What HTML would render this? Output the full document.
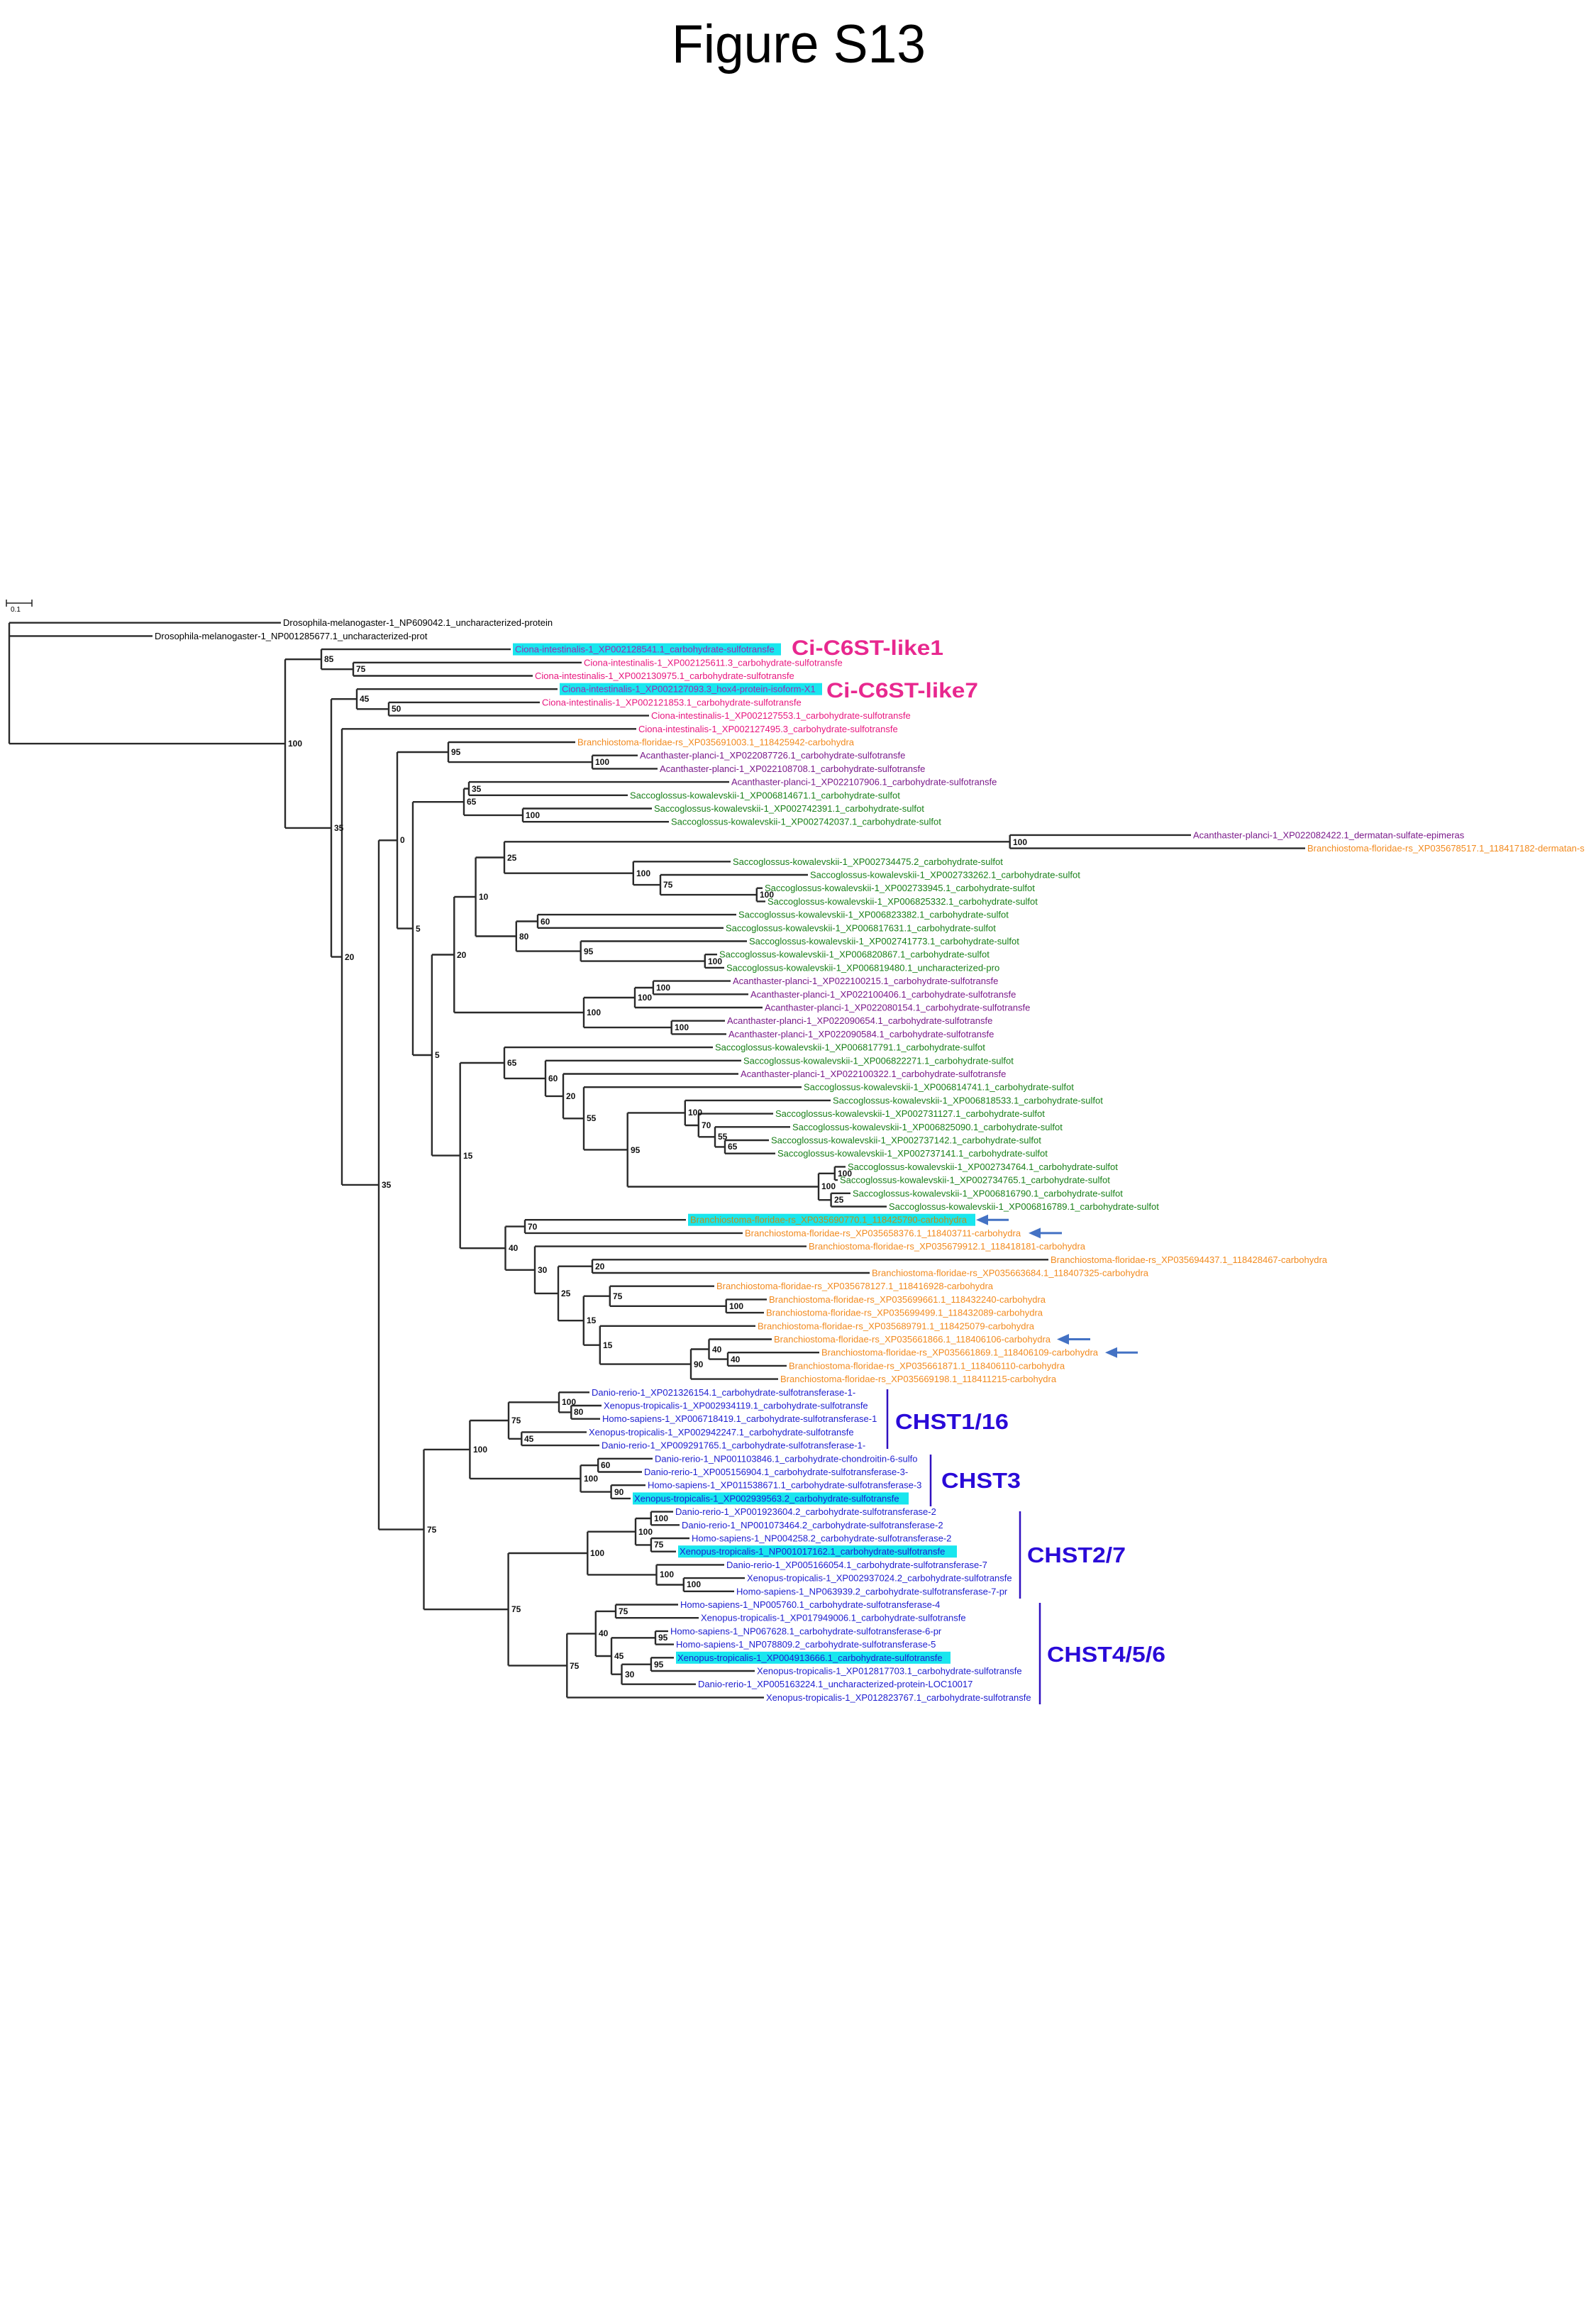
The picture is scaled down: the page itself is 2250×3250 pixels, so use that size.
<!DOCTYPE html>
<html><head><meta charset="utf-8"><style>
html,body{margin:0;padding:0;background:#fff;}
svg{display:block;}
text{font-family:"Liberation Sans",Arial,sans-serif;}
.l{font-size:13px;}
.k{fill:#000;}.c{fill:#e8177f;}.o{fill:#f28a1e;}.p{fill:#7a1a8a;}.g{fill:#1a801a;}.b{fill:#2020d0;}
.bs{font-size:12px;font-weight:bold;fill:#111;}
</style></head><body>
<svg width="2250" height="3250" viewBox="0 0 2250 3250" xmlns="http://www.w3.org/2000/svg">
<rect width="2250" height="3250" fill="#fff"/>
<text x="947" y="88" font-size="76" textLength="358" lengthAdjust="spacingAndGlyphs" fill="#000">Figure S13</text>
<path d="M9 850H45M9 845V855M45 845V855" stroke="#222" stroke-width="1.5" fill="none"/>
<text x="15" y="862" font-size="10" fill="#000">0.1</text>
<g fill="#19e6ee">
<rect x="723" y="906.6" width="378" height="17"/>
<rect x="789" y="962.7" width="370" height="17"/>
<rect x="970" y="1710.7" width="405" height="17"/>
<rect x="892" y="2103.4" width="389" height="17"/>
<rect x="956" y="2178.2" width="393" height="17"/>
<rect x="953" y="2327.8" width="387" height="17"/>
</g>
<path stroke="#2a2a2a" stroke-width="2.4" fill="none" d="
M13 877.7V1048.1M13 877.7H396M13 896.4H215M13 1048.1H402
M402 929.2V1166.9M402 929.2H453M402 1166.9H467
M453 915.1V943.2M453 915.1H720M453 943.2H498
M498 933.8V952.5M498 933.8H820M498 952.5H751
M467 985.2V1348.6M467 985.2H503M467 1348.6H482
M503 971.2V999.3M503 971.2H786M503 999.3H548
M548 989.9V1008.6M548 989.9H761M548 1008.6H915
M482 1027.3V1669.9M482 1027.3H897M482 1669.9H534
M534 1184.3V2155.6M534 1184.3H560M534 2155.6H597.5
M560 1060V1308.6M560 1060H632M560 1308.6H582
M632 1046V1074.1M632 1046H811M632 1074.1H835
M835 1064.7V1083.4M835 1064.7H899M835 1083.4H927
M582 1130.2V1487M582 1130.2H654M582 1487H608.9
M654 1111.5V1148.9M654 1111.5H661M654 1148.9H737
M661 1102.1V1120.8M661 1102.1H1028M661 1120.8H885
M737 1139.5V1158.2M737 1139.5H919M737 1158.2H943
M608.9 1345.5V1628.6M608.9 1345.5H640.3M608.9 1628.6H648.7
M640.3 1264V1427M640.3 1264H670.6M640.3 1427H823
M670.6 1208.5V1319.5M670.6 1208.5H711M670.6 1319.5H727.8
M711 1186.3V1230.7M711 1186.3H1423.7M711 1230.7H892.8
M1423.7 1176.9V1195.6M1423.7 1176.9H1679M1423.7 1195.6H1840
M892.8 1214.3V1247.1M892.8 1214.3H1030M892.8 1247.1H931
M931 1233V1261.1M931 1233H1139M931 1261.1H1066.8
M1066.8 1251.7V1270.4M1066.8 1251.7H1075M1066.8 1270.4H1079
M727.8 1298.5V1340.6M727.8 1298.5H758M727.8 1340.6H818.7
M758 1289.1V1307.8M758 1289.1H1038M758 1307.8H1020
M818.7 1326.5V1354.6M818.7 1326.5H1053M818.7 1354.6H993.8
M993.8 1345.2V1363.9M993.8 1345.2H1011M993.8 1363.9H1021
M823 1406V1448.1M823 1406H895M823 1448.1H946.7
M895 1392V1420M895 1392H920.9M895 1420H1075
M920.9 1382.6V1401.3M920.9 1382.6H1030M920.9 1401.3H1055
M946.7 1438.7V1457.4M946.7 1438.7H1022M946.7 1457.4H1024
M648.7 1498V1759.2M648.7 1498H711M648.7 1759.2H712.5
M711 1476.1V1519.9M711 1476.1H1005M711 1519.9H769
M769 1494.8V1544.9M769 1494.8H1045M769 1544.9H794
M794 1513.5V1576.3M794 1513.5H1041M794 1576.3H823
M823 1532.2V1620.4M823 1532.2H1130M823 1620.4H884.7
M884.7 1568.4V1672.5M884.7 1568.4H965.8M884.7 1672.5H1154
M965.8 1550.9V1586M965.8 1550.9H1171M965.8 1586H984.8
M984.8 1569.6V1602.3M984.8 1569.6H1090M984.8 1602.3H1008
M1008 1588.3V1616.4M1008 1588.3H1114M1008 1616.4H1022
M1022 1607V1625.7M1022 1607H1084M1022 1625.7H1093
M1154 1653.8V1691.2M1154 1653.8H1176.8M1154 1691.2H1171.6
M1176.8 1644.4V1663.1M1176.8 1644.4H1192M1176.8 1663.1H1181
M1171.6 1681.8V1700.5M1171.6 1681.8H1199M1171.6 1700.5H1250
M712.5 1728.6V1789.8M712.5 1728.6H740M712.5 1789.8H754
M740 1719.2V1737.9M740 1719.2H967M740 1737.9H1047
M754 1756.6V1822.9M754 1756.6H1137M754 1822.9H787
M787 1784.7V1861.2M787 1784.7H835M787 1861.2H822.8
M835 1775.3V1794M835 1775.3H1478M835 1794H1226
M822.8 1826.7V1895.7M822.8 1826.7H859.8M822.8 1895.7H845.8
M859.8 1812.7V1840.8M859.8 1812.7H1007M859.8 1840.8H1023.7
M1023.7 1831.4V1850.1M1023.7 1831.4H1081M1023.7 1850.1H1077
M845.8 1868.8V1922.6M845.8 1868.8H1065M845.8 1922.6H974
M974 1901.5V1943.6M974 1901.5H999.5M974 1943.6H1097
M999.5 1887.5V1915.6M999.5 1887.5H1088M999.5 1915.6H1026
M1026 1906.2V1924.9M1026 1906.2H1155M1026 1924.9H1109
M597.5 2042.9V2268.2M597.5 2042.9H662.4M597.5 2268.2H716.6
M662.4 2002V2083.9M662.4 2002H717M662.4 2083.9H818.5
M717 1976.3V2027.8M717 1976.3H788M717 2027.8H735.3
M788 1962.3V1990.4M788 1962.3H831M788 1990.4H805.3
M805.3 1981V1999.7M805.3 1981H848M805.3 1999.7H846
M735.3 2018.4V2037.1M735.3 2018.4H827M735.3 2037.1H845
M818.5 2065.2V2102.6M818.5 2065.2H843.2M818.5 2102.6H861.6
M843.2 2055.8V2074.5M843.2 2055.8H920M843.2 2074.5H905
M861.6 2093.2V2111.9M861.6 2093.2H910M861.6 2111.9H889
M716.6 2189V2347.4M716.6 2189H828.3M716.6 2347.4H799.3
M828.3 2158.7V2219.4M828.3 2158.7H896M828.3 2219.4H925.5
M896 2140V2177.4M896 2140H917.8M896 2177.4H917.9
M917.8 2130.6V2149.3M917.8 2130.6H949M917.8 2149.3H958
M917.9 2168V2186.7M917.9 2168H972M917.9 2186.7H953
M925.5 2205.4V2233.5M925.5 2205.4H1021M925.5 2233.5H963.8
M963.8 2224.1V2242.8M963.8 2224.1H1050M963.8 2242.8H1035
M799.3 2302.4V2392.4M799.3 2302.4H839.8M799.3 2392.4H1077
M839.8 2270.9V2334M839.8 2270.9H868M839.8 2334H862
M868 2261.5V2280.2M868 2261.5H956M868 2280.2H985
M862 2308.3V2359.7M862 2308.3H924M862 2359.7H876.5
M924 2298.9V2317.6M924 2298.9H942M924 2317.6H950
M876.5 2345.7V2373.7M876.5 2345.7H917.9M876.5 2373.7H981
M917.9 2336.3V2355M917.9 2336.3H950M917.9 2355H1064
"/>
<g class="bs">
<text x="406" y="1052">100</text><text x="457" y="933">85</text><text x="502" y="947">75</text>
<text x="471" y="1171">35</text><text x="507" y="989">45</text><text x="552" y="1003">50</text>
<text x="486" y="1353">20</text><text x="538" y="1674">35</text><text x="564" y="1188">0</text>
<text x="636" y="1064">95</text><text x="839" y="1078">100</text><text x="586" y="1313">5</text>
<text x="658" y="1134">65</text><text x="665" y="1116">35</text><text x="741" y="1153">100</text>
<text x="613" y="1491">5</text><text x="644" y="1350">20</text><text x="675" y="1268">10</text>
<text x="715" y="1213">25</text><text x="1428" y="1191">100</text><text x="897" y="1235">100</text>
<text x="935" y="1251">75</text><text x="1071" y="1265">100</text><text x="732" y="1324">80</text>
<text x="762" y="1303">60</text><text x="823" y="1345">95</text><text x="998" y="1359">100</text>
<text x="827" y="1431">100</text><text x="899" y="1410">100</text><text x="925" y="1396">100</text>
<text x="951" y="1452">100</text><text x="653" y="1633">15</text><text x="715" y="1502">65</text>
<text x="773" y="1524">60</text><text x="798" y="1549">20</text><text x="827" y="1580">55</text>
<text x="889" y="1625">95</text><text x="970" y="1572">100</text><text x="989" y="1590">70</text>
<text x="1012" y="1606">55</text><text x="1026" y="1620">65</text><text x="1158" y="1676">100</text>
<text x="1181" y="1658">100</text><text x="1176" y="1695">25</text><text x="717" y="1763">40</text>
<text x="744" y="1733">70</text><text x="758" y="1794">30</text><text x="791" y="1827">25</text>
<text x="839" y="1789">20</text><text x="827" y="1865">15</text><text x="864" y="1831">75</text>
<text x="1028" y="1845">100</text><text x="850" y="1900">15</text><text x="978" y="1927">90</text>
<text x="1004" y="1906">40</text><text x="1030" y="1920">40</text>
<text x="602" y="2160">75</text><text x="667" y="2047">100</text><text x="721" y="2006">75</text>
<text x="792" y="1980">100</text><text x="809" y="1994">80</text><text x="739" y="2032">45</text>
<text x="823" y="2088">100</text><text x="847" y="2069">60</text><text x="866" y="2107">90</text>
<text x="721" y="2272">75</text><text x="832" y="2193">100</text><text x="900" y="2163">100</text>
<text x="922" y="2144">100</text><text x="922" y="2181">75</text><text x="930" y="2223">100</text>
<text x="968" y="2237">100</text><text x="803" y="2352">75</text><text x="844" y="2306">40</text>
<text x="872" y="2275">75</text><text x="866" y="2338">45</text><text x="928" y="2312">95</text>
<text x="881" y="2364">30</text><text x="922" y="2350">95</text>
</g>
<g class="l">
<text class="k" x="399" y="882.2">Drosophila-melanogaster-1_NP609042.1_uncharacterized-protein</text>
<text class="k" x="218" y="900.9">Drosophila-melanogaster-1_NP001285677.1_uncharacterized-prot</text>
<text x="726" y="919.6" fill="#9a2fb0">Ciona-intestinalis-1_XP002128541.1_carbohydrate-sulfotransfe</text>
<text class="c" x="823" y="938.3">Ciona-intestinalis-1_XP002125611.3_carbohydrate-sulfotransfe</text>
<text class="c" x="754" y="957">Ciona-intestinalis-1_XP002130975.1_carbohydrate-sulfotransfe</text>
<text x="792" y="975.7" fill="#9a2fb0">Ciona-intestinalis-1_XP002127093.3_hox4-protein-isoform-X1</text>
<text class="c" x="764" y="994.4">Ciona-intestinalis-1_XP002121853.1_carbohydrate-sulfotransfe</text>
<text class="c" x="918" y="1013.1">Ciona-intestinalis-1_XP002127553.1_carbohydrate-sulfotransfe</text>
<text class="c" x="900" y="1031.8">Ciona-intestinalis-1_XP002127495.3_carbohydrate-sulfotransfe</text>
<text class="o" x="814" y="1050.5">Branchiostoma-floridae-rs_XP035691003.1_118425942-carbohydra</text>
<text class="p" x="902" y="1069.2">Acanthaster-planci-1_XP022087726.1_carbohydrate-sulfotransfe</text>
<text class="p" x="930" y="1087.9">Acanthaster-planci-1_XP022108708.1_carbohydrate-sulfotransfe</text>
<text class="p" x="1031" y="1106.6">Acanthaster-planci-1_XP022107906.1_carbohydrate-sulfotransfe</text>
<text class="g" x="888" y="1125.3">Saccoglossus-kowalevskii-1_XP006814671.1_carbohydrate-sulfot</text>
<text class="g" x="922" y="1144">Saccoglossus-kowalevskii-1_XP002742391.1_carbohydrate-sulfot</text>
<text class="g" x="946" y="1162.7">Saccoglossus-kowalevskii-1_XP002742037.1_carbohydrate-sulfot</text>
<text class="p" x="1682" y="1181.4">Acanthaster-planci-1_XP022082422.1_dermatan-sulfate-epimeras</text>
<text class="o" x="1843" y="1200.1">Branchiostoma-floridae-rs_XP035678517.1_118417182-dermatan-s</text>
<text class="g" x="1033" y="1218.8">Saccoglossus-kowalevskii-1_XP002734475.2_carbohydrate-sulfot</text>
<text class="g" x="1142" y="1237.5">Saccoglossus-kowalevskii-1_XP002733262.1_carbohydrate-sulfot</text>
<text class="g" x="1078" y="1256.2">Saccoglossus-kowalevskii-1_XP002733945.1_carbohydrate-sulfot</text>
<text class="g" x="1082" y="1274.9">Saccoglossus-kowalevskii-1_XP006825332.1_carbohydrate-sulfot</text>
<text class="g" x="1041" y="1293.6">Saccoglossus-kowalevskii-1_XP006823382.1_carbohydrate-sulfot</text>
<text class="g" x="1023" y="1312.3">Saccoglossus-kowalevskii-1_XP006817631.1_carbohydrate-sulfot</text>
<text class="g" x="1056" y="1331">Saccoglossus-kowalevskii-1_XP002741773.1_carbohydrate-sulfot</text>
<text class="g" x="1014" y="1349.7">Saccoglossus-kowalevskii-1_XP006820867.1_carbohydrate-sulfot</text>
<text class="g" x="1024" y="1368.4">Saccoglossus-kowalevskii-1_XP006819480.1_uncharacterized-pro</text>
<text class="p" x="1033" y="1387.1">Acanthaster-planci-1_XP022100215.1_carbohydrate-sulfotransfe</text>
<text class="p" x="1058" y="1405.8">Acanthaster-planci-1_XP022100406.1_carbohydrate-sulfotransfe</text>
<text class="p" x="1078" y="1424.5">Acanthaster-planci-1_XP022080154.1_carbohydrate-sulfotransfe</text>
<text class="p" x="1025" y="1443.2">Acanthaster-planci-1_XP022090654.1_carbohydrate-sulfotransfe</text>
<text class="p" x="1027" y="1461.9">Acanthaster-planci-1_XP022090584.1_carbohydrate-sulfotransfe</text>
<text class="g" x="1008" y="1480.6">Saccoglossus-kowalevskii-1_XP006817791.1_carbohydrate-sulfot</text>
<text class="g" x="1048" y="1499.3">Saccoglossus-kowalevskii-1_XP006822271.1_carbohydrate-sulfot</text>
<text class="p" x="1044" y="1518">Acanthaster-planci-1_XP022100322.1_carbohydrate-sulfotransfe</text>
<text class="g" x="1133" y="1536.7">Saccoglossus-kowalevskii-1_XP006814741.1_carbohydrate-sulfot</text>
<text class="g" x="1174" y="1555.4">Saccoglossus-kowalevskii-1_XP006818533.1_carbohydrate-sulfot</text>
<text class="g" x="1093" y="1574.1">Saccoglossus-kowalevskii-1_XP002731127.1_carbohydrate-sulfot</text>
<text class="g" x="1117" y="1592.8">Saccoglossus-kowalevskii-1_XP006825090.1_carbohydrate-sulfot</text>
<text class="g" x="1087" y="1611.5">Saccoglossus-kowalevskii-1_XP002737142.1_carbohydrate-sulfot</text>
<text class="g" x="1096" y="1630.2">Saccoglossus-kowalevskii-1_XP002737141.1_carbohydrate-sulfot</text>
<text class="g" x="1195" y="1648.9">Saccoglossus-kowalevskii-1_XP002734764.1_carbohydrate-sulfot</text>
<text class="g" x="1184" y="1667.6">Saccoglossus-kowalevskii-1_XP002734765.1_carbohydrate-sulfot</text>
<text class="g" x="1202" y="1686.3">Saccoglossus-kowalevskii-1_XP006816790.1_carbohydrate-sulfot</text>
<text class="g" x="1253" y="1705">Saccoglossus-kowalevskii-1_XP006816789.1_carbohydrate-sulfot</text>
<text x="973" y="1723.7" fill="#c0901a">Branchiostoma-floridae-rs_XP035690770.1_118425790-carbohydra</text>
<text class="o" x="1050" y="1742.4">Branchiostoma-floridae-rs_XP035658376.1_118403711-carbohydra</text>
<text class="o" x="1140" y="1761.1">Branchiostoma-floridae-rs_XP035679912.1_118418181-carbohydra</text>
<text class="o" x="1481" y="1779.8">Branchiostoma-floridae-rs_XP035694437.1_118428467-carbohydra</text>
<text class="o" x="1229" y="1798.5">Branchiostoma-floridae-rs_XP035663684.1_118407325-carbohydra</text>
<text class="o" x="1010" y="1817.2">Branchiostoma-floridae-rs_XP035678127.1_118416928-carbohydra</text>
<text class="o" x="1084" y="1835.9">Branchiostoma-floridae-rs_XP035699661.1_118432240-carbohydra</text>
<text class="o" x="1080" y="1854.6">Branchiostoma-floridae-rs_XP035699499.1_118432089-carbohydra</text>
<text class="o" x="1068" y="1873.3">Branchiostoma-floridae-rs_XP035689791.1_118425079-carbohydra</text>
<text class="o" x="1091" y="1892">Branchiostoma-floridae-rs_XP035661866.1_118406106-carbohydra</text>
<text class="o" x="1158" y="1910.7">Branchiostoma-floridae-rs_XP035661869.1_118406109-carbohydra</text>
<text class="o" x="1112" y="1929.4">Branchiostoma-floridae-rs_XP035661871.1_118406110-carbohydra</text>
<text class="o" x="1100" y="1948.1">Branchiostoma-floridae-rs_XP035669198.1_118411215-carbohydra</text>
<text class="b" x="834" y="1966.8">Danio-rerio-1_XP021326154.1_carbohydrate-sulfotransferase-1-</text>
<text class="b" x="851" y="1985.5">Xenopus-tropicalis-1_XP002934119.1_carbohydrate-sulfotransfe</text>
<text class="b" x="849" y="2004.2">Homo-sapiens-1_XP006718419.1_carbohydrate-sulfotransferase-1</text>
<text class="b" x="830" y="2022.9">Xenopus-tropicalis-1_XP002942247.1_carbohydrate-sulfotransfe</text>
<text class="b" x="848" y="2041.6">Danio-rerio-1_XP009291765.1_carbohydrate-sulfotransferase-1-</text>
<text class="b" x="923" y="2060.3">Danio-rerio-1_NP001103846.1_carbohydrate-chondroitin-6-sulfo</text>
<text class="b" x="908" y="2079">Danio-rerio-1_XP005156904.1_carbohydrate-sulfotransferase-3-</text>
<text class="b" x="913" y="2097.7">Homo-sapiens-1_XP011538671.1_carbohydrate-sulfotransferase-3</text>
<text class="b" x="894" y="2116.4">Xenopus-tropicalis-1_XP002939563.2_carbohydrate-sulfotransfe</text>
<text class="b" x="952" y="2135.1">Danio-rerio-1_XP001923604.2_carbohydrate-sulfotransferase-2</text>
<text class="b" x="961" y="2153.8">Danio-rerio-1_NP001073464.2_carbohydrate-sulfotransferase-2</text>
<text class="b" x="975" y="2172.5">Homo-sapiens-1_NP004258.2_carbohydrate-sulfotransferase-2</text>
<text class="b" x="958" y="2191.2">Xenopus-tropicalis-1_NP001017162.1_carbohydrate-sulfotransfe</text>
<text class="b" x="1024" y="2209.9">Danio-rerio-1_XP005166054.1_carbohydrate-sulfotransferase-7</text>
<text class="b" x="1053" y="2228.6">Xenopus-tropicalis-1_XP002937024.2_carbohydrate-sulfotransfe</text>
<text class="b" x="1038" y="2247.3">Homo-sapiens-1_NP063939.2_carbohydrate-sulfotransferase-7-pr</text>
<text class="b" x="959" y="2266">Homo-sapiens-1_NP005760.1_carbohydrate-sulfotransferase-4</text>
<text class="b" x="988" y="2284.7">Xenopus-tropicalis-1_XP017949006.1_carbohydrate-sulfotransfe</text>
<text class="b" x="945" y="2303.4">Homo-sapiens-1_NP067628.1_carbohydrate-sulfotransferase-6-pr</text>
<text class="b" x="953" y="2322.1">Homo-sapiens-1_NP078809.2_carbohydrate-sulfotransferase-5</text>
<text class="b" x="955" y="2340.8">Xenopus-tropicalis-1_XP004913666.1_carbohydrate-sulfotransfe</text>
<text class="b" x="1067" y="2359.5">Xenopus-tropicalis-1_XP012817703.1_carbohydrate-sulfotransfe</text>
<text class="b" x="984" y="2378.2">Danio-rerio-1_XP005163224.1_uncharacterized-protein-LOC10017</text>
<text class="b" x="1080" y="2396.9">Xenopus-tropicalis-1_XP012823767.1_carbohydrate-sulfotransfe</text>
</g>
<g fill="#4472c4">
<polygon points="1376,1719.2 1393,1711.7 1393,1717.7 1422,1717.7 1422,1720.7 1393,1720.7 1393,1726.7"/>
<polygon points="1450,1737.9 1467,1730.4 1467,1736.4 1497,1736.4 1497,1739.4 1467,1739.4 1467,1745.4"/>
<polygon points="1490,1887.5 1507,1880 1507,1886 1537,1886 1537,1889 1507,1889 1507,1895"/>
<polygon points="1558,1906.2 1575,1898.7 1575,1904.7 1604,1904.7 1604,1907.7 1575,1907.7 1575,1913.7"/>
</g>
<text x="1116" y="923" font-size="30" font-weight="bold" textLength="214" lengthAdjust="spacingAndGlyphs" fill="#e8288f">Ci-C6ST-like1</text>
<text x="1165" y="983" font-size="30" font-weight="bold" textLength="214" lengthAdjust="spacingAndGlyphs" fill="#e8288f">Ci-C6ST-like7</text>
<g stroke="#3010c0" stroke-width="2.5">
<line x1="1251" y1="1958" x2="1251" y2="2042"/>
<line x1="1312" y1="2050" x2="1312" y2="2123"/>
<line x1="1438" y1="2130" x2="1438" y2="2253"/>
<line x1="1466" y1="2259" x2="1466" y2="2402"/>
</g>
<g fill="#2a0ad8" font-size="31" font-weight="bold">
<text x="1262" y="2014" textLength="160" lengthAdjust="spacingAndGlyphs">CHST1/16</text>
<text x="1327" y="2097" textLength="112" lengthAdjust="spacingAndGlyphs">CHST3</text>
<text x="1448" y="2202" textLength="139" lengthAdjust="spacingAndGlyphs">CHST2/7</text>
<text x="1476" y="2342" textLength="167" lengthAdjust="spacingAndGlyphs">CHST4/5/6</text>
</g>
</svg>
</body></html>
